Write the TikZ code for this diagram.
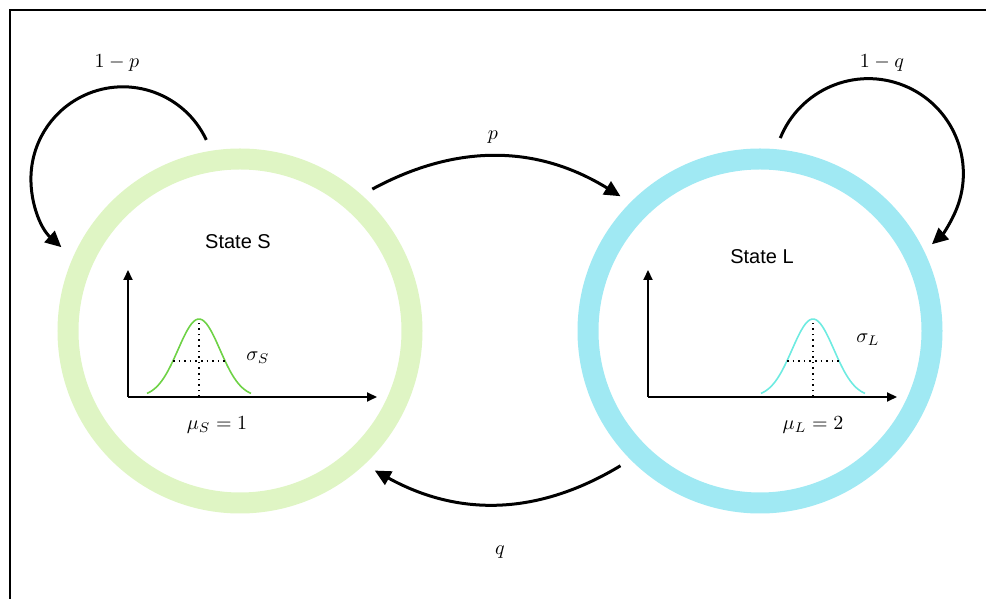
\documentclass[tikz,border=0pt]{standalone}
\usepackage{amsmath}
\usepackage{fontspec}
\setsansfont{Liberation Sans}
\usepackage{xcolor}
\definecolor{stgreen}{RGB}{223,245,196}
\definecolor{stcyan}{RGB}{160,233,243}
\definecolor{densgreen}{RGB}{110,210,70}
\definecolor{denscyan}{RGB}{110,235,225}
\usepackage{tikz}
\usetikzlibrary{arrows.meta, positioning}

\begin{document}
\begin{tikzpicture}[x=0.5pt, y=0.5pt,
    state/.style={circle, minimum size=172pt, line width=10.5pt, outer sep=11pt},
    trans/.style={-{Triangle[length=8pt, width=7.5pt]}, line width=1.5pt},
    axis/.style={-{Triangle[length=5pt, width=4.5pt]}, line width=1pt},
    guide/.style={dotted, line width=0.8pt}]
  \useasboundingbox (0,0) rectangle (986,599);
  \draw[line width=1pt] (10,0) |- (986,589);

  % the two states
  \node[state, draw=stgreen] (S) at (240,268) {};
  \node[state, draw=stcyan]  (L) at (760,268) {};
  \node[font=\sffamily] (Sname) at (238,357) {State S};
  \node[font=\sffamily] (Lname) at (762,342) {State L};

  % density in state S
  \draw[axis] (128,202) -- (377,202);
  \draw[axis] (128,202) -- (128,329);
  \draw[densgreen, line width=0.8pt, domain=-52:52, samples=50, smooth]
        plot ({199+\x},{202+78*exp(-\x*\x/880)});
  \draw[guide] (199,202) -- (199,280);
  \draw[guide] (173,238) -- (225,238);
  \node (sigS) at (258,241) {$\sigma_S$};
  \node (muS)  at (217,174) {$\mu_S = 1$};

  % density in state L
  \draw[axis] (648,202) -- (897,202);
  \draw[axis] (648,202) -- (648,329);
  \draw[denscyan, line width=0.8pt, domain=-52:52, samples=50, smooth]
        plot ({813+\x},{202+78*exp(-\x*\x/880)});
  \draw[guide] (813,202) -- (813,280);
  \draw[guide] (787,238) -- (839,238);
  \node (sigL) at (868,259) {$\sigma_L$};
  \node (muL)  at (813,174) {$\mu_L = 2$};

  % transitions
  \draw[trans] (S.47) to[bend left=30] (L.136);
  \draw[trans] (L.224) to[bend left=30] (S.314);
  \draw[trans] (S.100) arc[start angle=25, end angle=228, radius=92];
  \draw[trans] (L.84) arc[start angle=158, end angle=-48, radius=95];
  \node (pS) at (117,536) {$1-p$};
  \node (pL) at (882,536) {$1-q$};
  \node (p)  at (493,462) {$p$};
  \node (q)  at (500,47)  {$q$};
\end{tikzpicture}
\end{document}
